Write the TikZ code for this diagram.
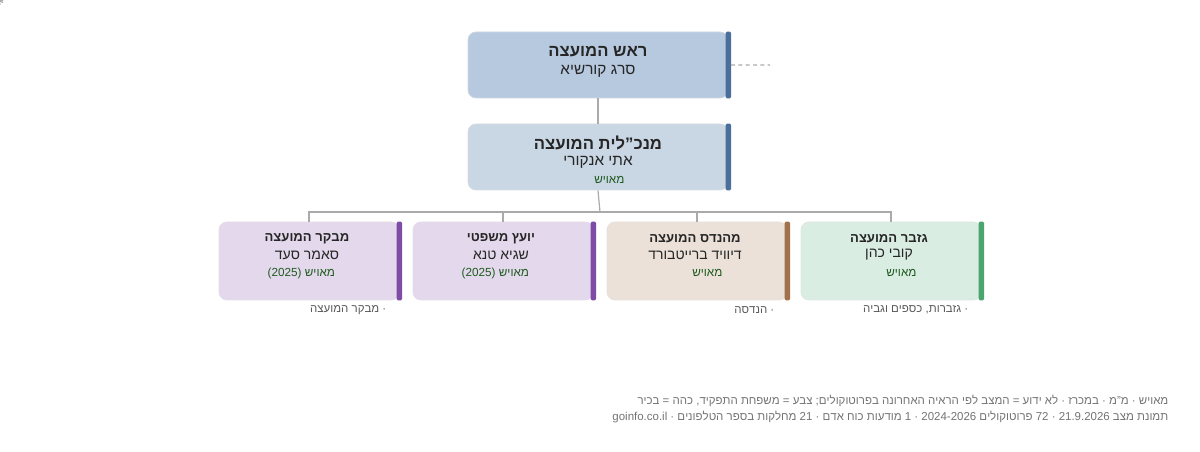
\documentclass[tikz,border=0pt]{standalone}
\usepackage{fontspec}
\setmainfont{Liberation Sans}
\usetikzlibrary{positioning}
\TeXXeTstate=1
\newcommand{\heb}[1]{\beginR #1\endR}
\definecolor{headfill}{HTML}{B7C9DF}
\definecolor{mgrfill}{HTML}{C9D6E3}
\definecolor{bluebar}{HTML}{4A6F9B}
\definecolor{purpfill}{HTML}{E4D9EC}
\definecolor{purpbar}{HTML}{7E4BA5}
\definecolor{tanfill}{HTML}{EBE1D9}
\definecolor{tanbar}{HTML}{A0714A}
\definecolor{grnfill}{HTML}{DAEDE3}
\definecolor{grnbar}{HTML}{4AA56F}
\definecolor{okgreen}{HTML}{1E5A1E}
\definecolor{wirecol}{HTML}{AAAAAA}
\tikzset{box/.style={draw=#1!80!gray!60,fill=#1,rounded corners=6pt,line width=0.6pt,inner sep=0pt},
  big box/.style={box=#1,minimum width=195pt,minimum height=49.5pt},
  card/.style={box=#1,minimum width=135pt,minimum height=58.5pt},
  big role/.style={font=\fontsize{12.5}{14}\selectfont\bfseries,text=black!85},
  big person/.style={font=\fontsize{11.5}{13}\selectfont,text=black!85},
  role/.style={font=\fontsize{9.8}{11}\selectfont\bfseries,text=black!85},
  person/.style={font=\fontsize{10.5}{12}\selectfont,text=black!85},
  status/.style={font=\fontsize{8.8}{10}\selectfont,text=okgreen},
  note/.style={font=\fontsize{8.6}{10}\selectfont,text=black!65,anchor=east},
  foot/.style={font=\fontsize{8.6}{10}\selectfont,text=black!55,anchor=east},
  wire/.style={draw=wirecol,line width=0.9pt}}
\newcommand{\okdot}{\tikz[baseline=-3pt]\fill[okgreen] (0,0) circle (3pt);}
\newcommand{\sidebar}[2]{\fill[#2,rounded corners=1pt] ([xshift=-2pt]#1.north east) rectangle ([xshift=2pt]#1.south east);}

\begin{document}
\begin{tikzpicture}[x=0.75pt,y=-0.75pt]
\useasboundingbox (0,0) rectangle (1200,452);
% head and manager
\node[big box=headfill] (head) at (598,65) {};
\sidebar{head}{bluebar}
\node[big role] at (598,52) {\heb{ראש המועצה}};
\node[big person] at (598,71) {\heb{סרג קורשיא}};
\node[big box=mgrfill] (mgr) at (598,157) {};
\sidebar{mgr}{bluebar}
\node[big role] at (598,143) {\heb{מנכ"לית המועצה}};
\node[big person] at (598,162) {\heb{אתי אנקורי}};
\node[status] at (615,180) {\heb{\okdot\ מאויש}};
\coordinate (side) at (770,65);
\draw[wire,line width=0.8pt,dash pattern=on 3pt off 2.5pt] ([xshift=2pt]head.east) -- (side);
\draw[wire] (head.south) -- (mgr.north);
% cards
\node[card=purpfill] (aud) at (309,261) {};
\node[card=purpfill] (law) at (503,261) {};
\node[card=tanfill] (eng) at (697,261) {};
\node[card=grnfill] (tre) at (891,261) {};
\sidebar{aud}{purpbar}
\sidebar{law}{purpbar}
\sidebar{eng}{tanbar}
\sidebar{tre}{grnbar}
\coordinate (hub) at (600,212);
\draw[wire] (mgr.south) -- (hub);
\draw[wire] (aud.north) |- (hub) -| (tre.north);
\draw[wire] (law.north) -- (law.north |- hub);
\draw[wire] (eng.north) -- (eng.north |- hub);
\node[role] at (307,239) {\heb{מבקר המועצה}};
\node[person] at (307,255) {\heb{סאמר סעד}};
\node[status] at (307,273) {\heb{\okdot\ מאויש (2025)}};
\node[role] at (501,239) {\heb{יועץ משפטי}};
\node[person] at (501,255) {\heb{שגיא טנא}};
\node[status] at (501,273) {\heb{\okdot\ מאויש (2025)}};
\node[role] at (695,239) {\heb{מהנדס המועצה}};
\node[person] at (695,255) {\heb{דיוויד ברייטבורד}};
\node[status] at (713,273) {\heb{\okdot\ מאויש}};
\node[role] at (889,239) {\heb{גזבר המועצה}};
\node[person] at (889,255) {\heb{קובי כהן}};
\node[status] at (907,273) {\heb{\okdot\ מאויש}};
\node[note] at (391,310) {\heb{· מבקר המועצה}};
\node[note] at (779,310) {\heb{· הנדסה}};
\node[note] at (973,310) {\heb{· גזברות, כספים וגביה}};
% legend
\node[foot] at (1173,401) {\heb{מאויש · מ"מ · במכרז · לא ידוע = המצב לפי הראיה האחרונה בפרוטוקולים; צבע = משפחת התפקיד, כהה = בכיר}};
\node[foot] at (1173,417) {\heb{תמונת מצב 21.9.2026 · 72 פרוטוקולים 2024-2026 · 1 מודעות כוח אדם · 21 מחלקות בספר הטלפונים · goinfo.co.il}};
\end{tikzpicture}
\end{document}
